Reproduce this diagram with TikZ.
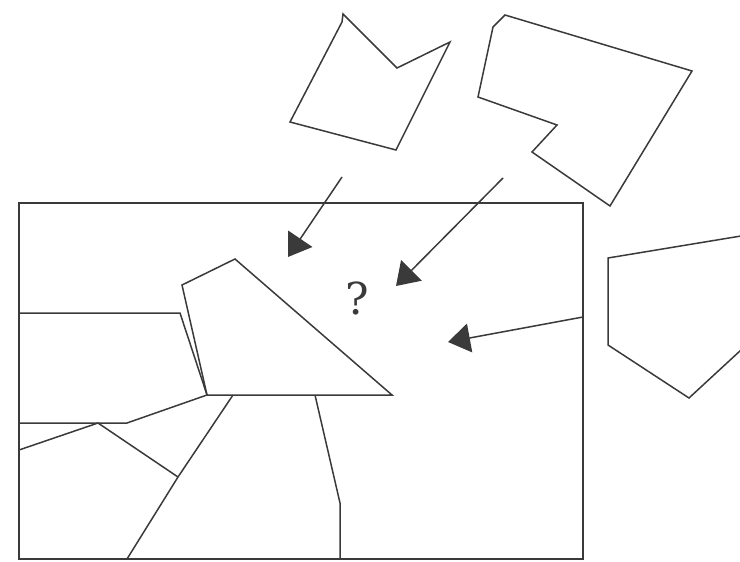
\documentclass[tikz,border=0pt]{standalone}
\usepackage{fontspec}
\setmainfont{Liberation Serif}
\newfontfamily\qfont{DejaVu Serif}
\usetikzlibrary{arrows.meta}
\definecolor{ink}{HTML}{3A3A3A}
\tikzset{
  piece/.style={draw=ink, line width=1.5pt, line join=miter},
  pointer/.style={draw=ink, line width=1.5pt, -{Triangle[length=22pt,width=29pt]}, fill=ink}
}
\begin{document}
\begin{tikzpicture}[x=1pt,y=-1pt]
\useasboundingbox (0,0) rectangle (740,562);
% main frame
\draw[piece] (19,203) rectangle (583,559);
% inner pieces
\draw[piece] (19,313) -- (180,313) -- (207,395);
\draw[piece] (19,423) -- (127,423) -- (207,395);
\draw[piece] (19,450) -- (98,423) -- (178,477);
\draw[piece] (233,395) -- (178,477) -- (127,559);
\draw[piece] (315,395) -- (340,503) -- (340,559);
\draw[piece] (207,395) -- (182,285) -- (235,259) -- (392,395) -- cycle;
\node[font=\qfont\fontsize{44}{44}\selectfont, text=ink, inner sep=0pt] (q) at (357,298) {?};
% loose pieces
\draw[piece] (343,14) -- (397,68) -- (450,42) -- (396,150) -- (290,122) -- (342,22) -- cycle;
\draw[piece] (505,15) -- (692,71) -- (610,206) -- (532,152) -- (557,125) -- (478,97) -- (493,27) -- cycle;
\draw[piece] (741,236) -- (608,258) -- (608,345) -- (689,398) -- (741,350);
% arrows
\coordinate (a1s) at (342,177); \coordinate (a1e) at (288,257);
\coordinate (a2s) at (503,178); \coordinate (a2e) at (396,286);
\coordinate (a3s) at (583,317); \coordinate (a3e) at (448,342);
\draw[pointer] (a1s) -- (a1e);
\draw[pointer] (a2s) -- (a2e);
\draw[pointer] (a3s) -- (a3e);
\end{tikzpicture}
\end{document}
